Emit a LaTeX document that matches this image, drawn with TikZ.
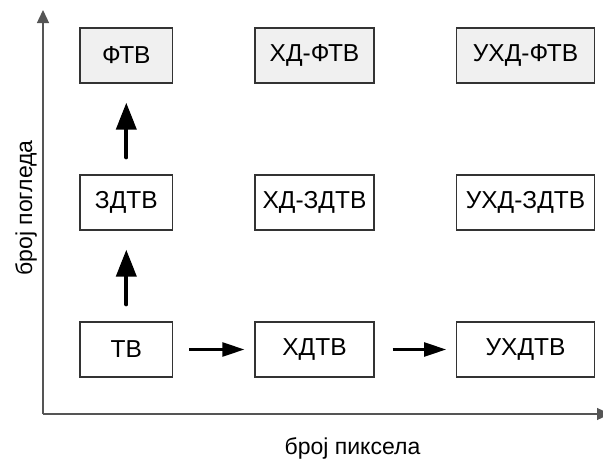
\documentclass[tikz,border=0pt]{standalone}
\usepackage{fontspec}
\setmainfont{Liberation Sans}
\usetikzlibrary{arrows.meta}
\definecolor{boxline}{HTML}{333333}
\definecolor{axisgray}{HTML}{555555}
\definecolor{lightfill}{HTML}{F0F0F0}
\begin{document}
\begin{tikzpicture}[x=1pt,y=-1pt,
  font=\fontsize{23}{27}\selectfont,
  tvbox/.style={draw=boxline,line width=1.3pt,minimum height=55pt,inner sep=0pt,anchor=center,font=\fontsize{24.5}{28}\selectfont},
  narrow/.style={tvbox,minimum width=92.7pt},
  wide/.style={tvbox,minimum width=119pt},
  wider/.style={tvbox,minimum width=137.5pt},
  shaded/.style={fill=lightfill},
  uparrow/.style={line width=4pt,line cap=round,-{Triangle[width=20pt,length=27pt]}},
  rarrow/.style={line width=2.5pt,-{Triangle[width=14pt,length=22pt]}},
  axis/.style={draw=axisgray,line width=1.3pt,-{Triangle[width=12pt,length=13pt]}}
]
\useasboundingbox (0,0) rectangle (603,466);
% axes
\coordinate (O) at (43,414);
\coordinate (Ytop) at (43,10);
\coordinate (Xend) at (610,414);
\draw[axis] (O) -- (Ytop);
\draw[axis] (O) -- (Xend);
\node[rotate=90] (ylab) at (26,208) {број погледа};
\node (xlab) at (352.5,448) {број пиксела};
% boxes
\node[narrow,shaded] (ftv) at (126.3,55.5) {ФТВ};
\node[wide,shaded] (hdftv) at (314.5,55.5) {ХД-ФТВ};
\node[wider,shaded] (uhdftv) at (525.5,55.5) {УХД-ФТВ};
\node[narrow] (3dtv) at (126.3,202.5) {ЗДТВ};
\node[wide] (hd3dtv) at (314.5,202.5) {ХД-ЗДТВ};
\node[wider] (uhd3dtv) at (525.5,202.5) {УХД-ЗДТВ};
\node[narrow] (tv) at (126.3,349.5) {ТВ};
\node[wide] (hdtv) at (314.5,349.5) {ХДТВ};
\node[wider] (uhdtv) at (525.5,349.5) {УХДТВ};
% arrows
\draw[uparrow,shorten <=17pt,shorten >=19pt] (tv.north) -- (3dtv.south);
\draw[uparrow,shorten <=17pt,shorten >=19pt] (3dtv.north) -- (ftv.south);
\draw[rarrow,shorten <=16pt,shorten >=10pt] (tv.east) -- (hdtv.west);
\draw[rarrow,shorten <=18pt,shorten >=10pt] (hdtv.east) -- (uhdtv.west);
\end{tikzpicture}
\end{document}
